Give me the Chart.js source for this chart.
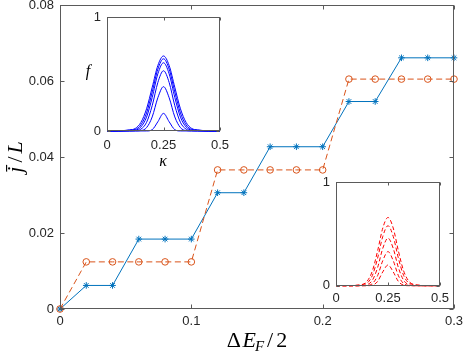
<!DOCTYPE html>
<html><head><meta charset="utf-8">
<script src="https://cdn.jsdelivr.net/npm/chart.js@4"></script>
<style>
html,body{margin:0;padding:0;background:#fff;}
#wrap{position:relative;width:463px;height:356px;overflow:hidden;}
canvas{position:absolute;}
</style></head><body>
<div id="wrap">
<canvas id="main" width="463" height="356" style="left:0;top:0"></canvas>
<canvas id="in1" width="150" height="175" style="left:80px;top:0px"></canvas>
<canvas id="in2" width="143" height="150" style="left:310px;top:170px"></canvas>
</div>
<script>
// ---- main chart data ----
const deltaEF = [0,0.02,0.04,0.06,0.08,0.1,0.12,0.14,0.16,0.18,0.2,0.22,0.24,0.26,0.28,0.3];
const currentBlue = [0,0.0062,0.0062,0.0184,0.0184,0.0184,0.0306,0.0306,0.0427,0.0427,0.0427,0.0546,0.0546,0.0661,0.0661,0.0661];
const currentOrange = [0,0.0124,0.0124,0.0124,0.0124,0.0124,0.0366,0.0366,0.0366,0.0366,0.0366,0.0605,0.0605,0.0605,0.0605,0.0605];
const xTicks = [0,0.1,0.2,0.3];
const xTickLabels = ['0','0.1','0.2','0.3'];
const yTicks = [0,0.02,0.04,0.06,0.08];
const yTickLabels = ['0','0.02','0.04','0.06','0.08'];

// ---- inset data ----
const kappa = [0,0.025,0.05,0.075,0.1,0.125,0.15,0.175,0.2,0.225,0.25,0.275,0.3,0.325,0.35,0.375,0.4,0.425,0.45,0.475,0.5];
const fBlue1 = [0.0002,0.0005,0.002,0.004,0.01,0.0222,0.0754,0.195,0.384,0.576,0.66,0.576,0.384,0.195,0.0754,0.0222,0.01,0.004,0.002,0.0005,0.0002];
const fBlue2 = [0.0003,0.0007,0.0015,0.003,0.007,0.0134,0.0538,0.158,0.343,0.544,0.635,0.544,0.343,0.158,0.0538,0.0134,0.007,0.003,0.0015,0.0007,0.0003];
const fBlue3 = [0.0002,0.0005,0.001,0.002,0.004,0.0072,0.0353,0.1219,0.2954,0.5026,0.60,0.5026,0.2954,0.1219,0.0353,0.0072,0.004,0.002,0.001,0.0005,0.0002];
const fBlue4 = [0,0.0002,0.0005,0.001,0.002,0.004,0.0166,0.0756,0.223,0.4269,0.53,0.4269,0.223,0.0756,0.0166,0.004,0.002,0.001,0.0005,0.0002,0];
const fBlue5 = [0,0,0.0002,0.0005,0.001,0.0015,0.0039,0.0295,0.1237,0.2927,0.39,0.2927,0.1237,0.0295,0.0039,0.0015,0.001,0.0005,0.0002,0,0];
const fBlue6 = [0,0,0,0,0,0.0002,0.0005,0.0005,0.0117,0.0813,0.155,0.0813,0.0117,0.0005,0.0005,0.0002,0,0,0,0,0];
const fRed1 = [0,0,0,0,0,0.0096,0.044,0.144,0.336,0.558,0.66,0.558,0.336,0.144,0.044,0.0096,0,0,0,0,0];
const fRed2 = [0,0,0,0,0.006,0.012,0.026,0.100,0.266,0.477,0.58,0.477,0.266,0.100,0.026,0.012,0.006,0,0,0,0];
const fRed3 = [0,0,0,0,0,0.0011,0.0097,0.053,0.175,0.362,0.46,0.362,0.175,0.053,0.0097,0.0011,0,0,0,0,0];
const fRed4 = [0,0,0,0,0,0,0.0025,0.021,0.097,0.243,0.33,0.243,0.097,0.021,0.0025,0,0,0,0,0,0];
const fRed5 = [0,0,0,0,0,0,0,0.0055,0.041,0.134,0.20,0.134,0.041,0.0055,0,0,0,0,0,0,0];
const kTicks = [0,0.25,0.5];
const kTickLabels = ['0','0.25','0.5'];
const fTicks = [0,1];
const fTickLabels = ['0','1'];

const AX = '#262626';
const TICKFONT = {family:'Liberation Sans, Arial, sans-serif', size:13};

function pts(xs, ys){ return xs.map((x,i)=>({x:x, y:ys[i]})); }

const framePlugin = {
  id:'frame',
  beforeDraw(chart, args, o){
    if(!o.fill) return;
    const a = chart.chartArea, c = chart.ctx;
    c.save(); c.fillStyle = '#fff'; c.fillRect(a.left, a.top, a.right-a.left, a.bottom-a.top); c.restore();
  },
  afterDatasetsDraw(chart, args, o){
    const a = chart.chartArea, c = chart.ctx;
    const L = Math.round(a.left)+0.5, R = Math.round(a.right)-0.5, T = Math.round(a.top)+0.5, B = Math.round(a.bottom)-0.5;
    c.save();
    c.strokeStyle = o.color; c.lineWidth = 1;
    c.strokeRect(L, T, R-L, B-T);
    c.beginPath();
    const xs = chart.scales.x, ys = chart.scales.y, tl = o.tick;
    o.xt.forEach(v=>{ const p = Math.round(xs.getPixelForValue(v))+0.5; c.moveTo(p,B); c.lineTo(p,B-tl); c.moveTo(p,T); c.lineTo(p,T+tl); });
    o.yt.forEach(v=>{ const p = Math.round(ys.getPixelForValue(v))+0.5; c.moveTo(L,p); c.lineTo(L+tl,p); c.moveTo(R,p); c.lineTo(R-tl,p); });
    c.stroke();
    c.restore();
  },
  afterDraw(chart, args, o){ if(o.labels) o.labels(chart.ctx, chart); }
};

function drawParts(c, parts, cx, base){
  let w = 0;
  parts.forEach(p=>{ c.font = p.font; p.w = c.measureText(p.t).width; w += p.w + (p.dx||0); });
  let x = cx - w/2;
  parts.forEach(p=>{ c.font = p.font; x += (p.dx||0); c.fillText(p.t, x, base + (p.dy||0)); x += p.w; });
}

function fixedScale(width, isX){
  return function(scale){
    if(isX) scale.height = width; else scale.width = width;
    scale.paddingLeft = 0; scale.paddingRight = 0; scale.paddingTop = 0; scale.paddingBottom = 0;
  };
}

function scaleCfg(min, max, ticks, labels, size, pad, isX){
  return {
    type:'linear', min:min, max:max,
    afterBuildTicks: s => { s.ticks = ticks.map(v=>({value:v})); },
    afterFit: fixedScale(size, isX),
    ticks:{ callback:(v,i)=>labels[i], font:TICKFONT, color:AX, padding:pad, maxRotation:0, autoSkip:false },
    grid:{ display:false, drawTicks:false },
    border:{ display:false },
    title:{ display:false }
  };
}

const SERIF = 'Liberation Serif, Times New Roman, serif';

new Chart(document.getElementById('main'), {
  type:'scatter',
  data:{ datasets:[
    { label:'orange', data:pts(deltaEF, currentOrange), showLine:true, borderColor:'#D95319', borderWidth:1, borderDash:[6,3.5],
      pointStyle:'circle', pointRadius:3.3, pointBorderColor:'#D95319', pointBackgroundColor:'rgba(0,0,0,0)', pointBorderWidth:1, order:0, clip:false },
    { label:'blue', data:pts(deltaEF, currentBlue), showLine:true, borderColor:'#0072BD', borderWidth:1,
      pointStyle:'star', pointRadius:3.3, pointBorderColor:'#0072BD', pointBackgroundColor:'#0072BD', pointBorderWidth:1, order:1, clip:false }
  ]},
  options:{
    responsive:false, animation:false, devicePixelRatio:1,
    layout:{ padding:{ left:0, top:5, right:9, bottom:0 } },
    plugins:{ legend:{display:false}, tooltip:{enabled:false},
      frame:{ color:'#5a5a5a', tick:4, xt:xTicks, yt:yTicks, labels:(c, chart)=>{
        c.save(); c.fillStyle = '#000'; c.textBaseline = 'alphabetic';
        drawParts(c, [
          {t:'\u0394', font:'22px '+SERIF},
          {t:'E', font:'italic 22px '+SERIF, dx:1.5},
          {t:'F', font:'italic 15px '+SERIF, dy:4, dx:-1},
          {t:'/', font:'22px '+SERIF, dx:3},
          {t:'2', font:'22px '+SERIF, dx:3}
        ], 257, 347);
        c.translate(22, 157); c.rotate(-Math.PI/2);
        drawParts(c, [
          {t:'j\u0304', font:'italic 22px '+SERIF},
          {t:'/', font:'22px '+SERIF, dx:4},
          {t:'L', font:'italic 22px '+SERIF, dx:3}
        ], 0, 0);
        c.restore();
      }}
    },
    scales:{
      x: scaleCfg(0, 0.3, xTicks, xTickLabels, 47, 5, true),
      y: scaleCfg(0, 0.08, yTicks, yTickLabels, 60, 6, false)
    }
  },
  plugins:[framePlugin]
});

function insetDatasets(list, color, dash){
  return list.map(arr=>({ data:pts(kappa, arr), showLine:true, borderColor:color, borderWidth:1, borderDash:dash,
    pointRadius:0, cubicInterpolationMode:'monotone', clip:false }));
}

new Chart(document.getElementById('in1'), {
  type:'scatter',
  data:{ datasets: insetDatasets([fBlue1,fBlue2,fBlue3,fBlue4,fBlue5,fBlue6], '#0000FF', []) },
  options:{
    responsive:false, animation:false, devicePixelRatio:1,
    layout:{ padding:{ left:0, top:17.3, right:10, bottom:0 } },
    plugins:{ legend:{display:false}, tooltip:{enabled:false},
      frame:{ fill:true, color:'#5a5a5a', tick:3, xt:kTicks, yt:fTicks, labels:(c)=>{
        c.save(); c.fillStyle = '#000'; c.textAlign = 'center'; c.textBaseline = 'middle';
        c.font = 'italic 16px '+SERIF; c.fillText('f', 8, 72);
        c.font = 'italic 16px '+SERIF; c.fillText('\u03BA', 83, 162);
        c.restore();
      }}
    },
    scales:{
      x: scaleCfg(0, 0.5, kTicks, kTickLabels, 44, 7, true),
      y: scaleCfg(0, 1, fTicks, fTickLabels, 27, 6, false)
    }
  },
  plugins:[framePlugin]
});

new Chart(document.getElementById('in2'), {
  type:'scatter',
  data:{ datasets: insetDatasets([fRed1,fRed2,fRed3,fRed4,fRed5], '#FF0000', [4,2.5]) },
  options:{
    responsive:false, animation:false, devicePixelRatio:1,
    layout:{ padding:{ left:0, top:12.3, right:13, bottom:0 } },
    plugins:{ legend:{display:false}, tooltip:{enabled:false},
      frame:{ fill:true, color:'#5a5a5a', tick:3, xt:kTicks, yt:fTicks }
    },
    scales:{
      x: scaleCfg(0, 0.5, kTicks, kTickLabels, 34.3, 5, true),
      y: scaleCfg(0, 1, fTicks, fTickLabels, 26, 6, false)
    }
  },
  plugins:[framePlugin]
});
</script>
</body></html>
